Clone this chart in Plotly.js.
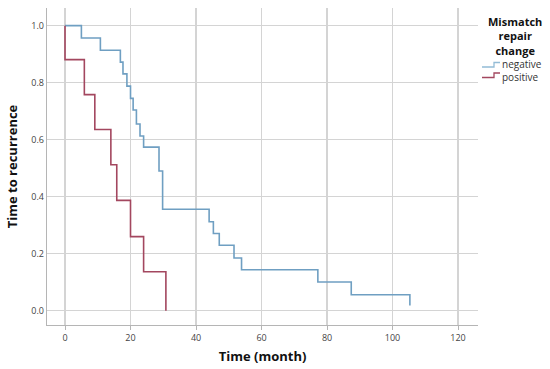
<!DOCTYPE html>
<html>
<head>
<meta charset="utf-8">
<script src="https://cdn.plot.ly/plotly-3.0.1.min.js"></script>
<style>html,body{margin:0;padding:0;background:#fff;}#chart{width:550px;height:369px;}</style>
</head>
<body>
<div id="chart"></div>
<script>
// Kaplan-Meier step data
const negTime = [0, 5.0, 10.8, 16.9, 17.7, 18.9, 20.0, 20.8, 21.8, 22.9, 24.0, 28.7, 29.8, 44.0, 45.3, 47.1, 51.6, 53.9, 77.2, 87.4, 105.3];
const negSurv = [1.0, 0.957, 0.914, 0.872, 0.831, 0.788, 0.745, 0.704, 0.655, 0.613, 0.574, 0.490, 0.356, 0.312, 0.271, 0.230, 0.185, 0.144, 0.101, 0.056, 0.018];
const posTime = [0, 0, 5.9, 9.1, 14.0, 15.8, 20.0, 24.0, 30.8];
const posSurv = [1.0, 0.881, 0.758, 0.636, 0.512, 0.387, 0.260, 0.137, 0.0];
const xTicks = [0, 20, 40, 60, 80, 100, 120];
const yTicks = [0.0, 0.2, 0.4, 0.6, 0.8, 1.0];
const groupNames = ["negative", "positive"];
const groupColors = ["#6f9fc2", "#a3475f"];
const legendColors = ["#93bcd6", "#a3475f"];
const legendTitle = "Mismatch<br>repair<br>change";

const font = "Open Sans, DejaVu Sans, sans-serif";
const traces = [
  {x: negTime, y: negSurv, name: groupNames[0], mode: "lines", line: {shape: "hv", color: groupColors[0], width: 1.6}},
  {x: posTime, y: posSurv, name: groupNames[1], mode: "lines", line: {shape: "hv", color: groupColors[1], width: 1.6}}
];

// plot area in pixels: x 47..478, y 8..325
const PL = 47, PW = 431, PT = 8, PH = 317;
const px = v => (v - PL) / PW;
const py = v => (PT + PH - v) / PH;

const shapes = [];
groupNames.forEach((name, i) => {
  const base = 67 + i * 10.5;
  shapes.push({
    type: "path", xref: "paper", yref: "paper",
    path: `M ${px(482)},${py(base)} H ${px(494)} V ${py(base - 4.5)} H ${px(500)}`,
    line: {color: legendColors[i], width: 1.3}
  });
});
const annotations = [
  {
    text: "<b>" + legendTitle + "</b>", xref: "paper", yref: "paper",
    x: px(515), y: py(12), xanchor: "center", yanchor: "top", align: "center",
    showarrow: false, font: {size: 11, color: "#111", family: font}
  },
  {
    text: groupNames.join("<br>"), xref: "paper", yref: "paper",
    x: px(501), y: py(70.3), xanchor: "left", yanchor: "middle", align: "left",
    showarrow: false, borderpad: 0, font: {size: 10, color: "#333", family: font}
  }
];

const layout = {
  width: 550, height: 369,
  margin: {l: 47, r: 72, t: 8, b: 44, autoexpand: false},
  paper_bgcolor: "#fff", plot_bgcolor: "#fff",
  font: {family: font, color: "#333"},
  showlegend: false,
  shapes: shapes,
  annotations: annotations,
  xaxis: {
    range: [-5.5, 126.1], tickvals: xTicks, ticktext: xTicks.map(String),
    showgrid: true, gridcolor: "#d4d4d4", gridwidth: 1.3,
    zeroline: false, showline: true, linecolor: "#b5b5b5", linewidth: 1.3,
    ticks: "outside", ticklen: 4, tickcolor: "#b5b5b5",
    tickfont: {size: 9, color: "#444"},
    title: {text: "Time (month)", font: {size: 13, color: "#111", family: font, weight: "bold"}, standoff: 8}
  },
  yaxis: {
    range: [-0.05, 1.062], tickvals: yTicks, ticktext: yTicks.map(v => v.toFixed(1)),
    showgrid: true, gridcolor: "#d4d4d4", gridwidth: 1.3,
    zeroline: false, showline: true, linecolor: "#b5b5b5", linewidth: 1.3,
    ticks: "", tickfont: {size: 9, color: "#444"},
    title: {text: "Time to recurrence", font: {size: 13, color: "#111", family: font, weight: "bold"}, standoff: 10}
  }
};
Plotly.newPlot("chart", traces, layout, {displayModeBar: false, staticPlot: true});
</script>
</body>
</html>
